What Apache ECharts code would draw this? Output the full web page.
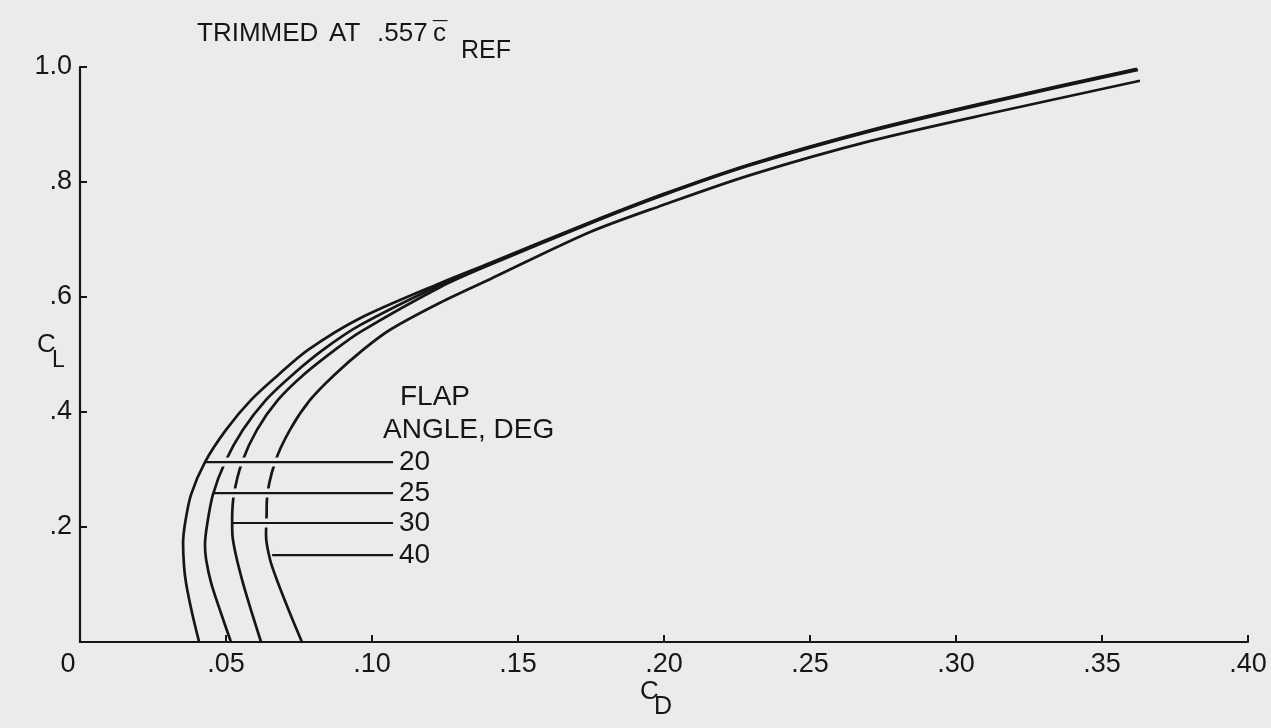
<!DOCTYPE html>
<html>
<head>
<meta charset="utf-8">
<script src="https://cdn.jsdelivr.net/npm/echarts@6/dist/echarts.min.js"></script>
<style>
  html, body { margin: 0; padding: 0; background: #ebebeb; }
  #chart { width: 1271px; height: 728px; }
</style>
</head>
<body>
<div id="chart"></div>
<script>
// Trimmed drag polars, C_L vs C_D, one curve per flap angle
const flapAngles = ['20', '25', '30', '40'];

const polar20 = [
  [0.0408, 0], [0.0384, 0.050], [0.0363, 0.103], [0.0356, 0.134], [0.0353, 0.172],
  [0.0360, 0.207], [0.0380, 0.256], [0.0428, 0.313], [0.0500, 0.369], [0.0586, 0.421],
  [0.0678, 0.464], [0.0781, 0.508], [0.0959, 0.563], [0.1233, 0.624], [0.1404, 0.659],
  [0.1747, 0.730], [0.1997, 0.779], [0.2295, 0.831], [0.2705, 0.890], [0.3151, 0.944],
  [0.3620, 0.997]
];
const polar25 = [
  [0.0517, 0], [0.0483, 0.050], [0.0449, 0.103], [0.0432, 0.143], [0.0428, 0.169],
  [0.0435, 0.203], [0.0455, 0.256], [0.0497, 0.313], [0.0558, 0.369], [0.0637, 0.421],
  [0.0726, 0.464], [0.0832, 0.508], [0.0959, 0.551], [0.1233, 0.621], [0.1404, 0.657],
  [0.1747, 0.729], [0.1997, 0.778], [0.2295, 0.830], [0.2705, 0.889], [0.3151, 0.943],
  [0.3620, 0.996]
];
const polar30 = [
  [0.0620, 0], [0.0589, 0.050], [0.0558, 0.103], [0.0534, 0.151], [0.0522, 0.186],
  [0.0521, 0.212], [0.0527, 0.256], [0.0555, 0.313], [0.0606, 0.369], [0.0678, 0.421],
  [0.0764, 0.464], [0.0873, 0.508], [0.0959, 0.539], [0.1233, 0.617], [0.1404, 0.656],
  [0.1747, 0.728], [0.1997, 0.777], [0.2295, 0.829], [0.2705, 0.888], [0.3151, 0.942],
  [0.3623, 0.995]
];
const polar40 = [
  [0.0760, 0], [0.0719, 0.050], [0.0678, 0.103], [0.0651, 0.143], [0.0637, 0.186],
  [0.0639, 0.221], [0.0640, 0.247], [0.0668, 0.313], [0.0719, 0.369], [0.0788, 0.421],
  [0.0870, 0.464], [0.0969, 0.508], [0.1062, 0.543], [0.1233, 0.590], [0.1404, 0.631],
  [0.1747, 0.713], [0.1997, 0.760], [0.2295, 0.812], [0.2705, 0.871], [0.3151, 0.923],
  [0.3630, 0.976]
];
const polars = [polar20, polar25, polar30, polar40];

// leader lines from each curve to its flap-angle label
const leaderCL = [0.313, 0.259, 0.207, 0.151];
const leaderStartCD = [0.0428, 0.0455, 0.0521, 0.0658];
const leaderEndCD = 0.1072;
const leaderGapOffset = 0.0025;

// tick values
const xTicks = [0, 0.05, 0.10, 0.15, 0.20, 0.25, 0.30, 0.35, 0.40];
const yTicks = [0, 0.2, 0.4, 0.6, 0.8, 1.0];

const INK = '#161616';
const PAPER = '#ebebeb';
const FONT = '"Liberation Sans", Arial, sans-serif';

const series = [];
polars.forEach((pts, i) => {
  series.push({
    name: flapAngles[i],
    type: 'line',
    data: pts,
    smooth: 0.3,
    showSymbol: false,
    symbol: 'none',
    lineStyle: { color: INK, width: 2.7 },
    z: 2
  });
});
// paper-coloured strip under each leader so crossed curves show a break
leaderCL.forEach((cl, i) => {
  series.push({
    type: 'line',
    data: [[leaderStartCD[i] + leaderGapOffset, cl], [leaderEndCD, cl]],
    symbol: 'none',
    lineStyle: { color: PAPER, width: 9 },
    silent: true,
    z: 3
  });
});
leaderCL.forEach((cl, i) => {
  series.push({
    type: 'line',
    data: [[leaderStartCD[i], cl], [leaderEndCD, cl]],
    symbol: 'none',
    lineStyle: { color: INK, width: 2.2 },
    endLabel: {
      show: true,
      formatter: flapAngles[i],
      color: INK,
      fontFamily: FONT,
      fontSize: 28,
      distance: 6
    },
    z: 4
  });
});

const chart = echarts.init(document.getElementById('chart'), null, { renderer: 'canvas' });
chart.setOption({
  animation: false,
  backgroundColor: PAPER,
  grid: { left: 80, right: 23, top: 67, bottom: 86 },
  xAxis: {
    type: 'value',
    min: 0,
    max: 0.40,
    interval: 0.05,
    axisLine: { show: true, onZero: false, lineStyle: { color: INK, width: 2.2 } },
    axisTick: { show: true, inside: true, length: 7, lineStyle: { color: INK, width: 2 } },
    splitLine: { show: false },
    axisLabel: {
      margin: 9,
      color: INK,
      fontFamily: FONT,
      fontSize: 27,
      formatter: v => {
        const t = xTicks.find(x => Math.abs(x - v) < 1e-9);
        if (t === undefined) return '';
        if (t === 0) return '{z|0}';
        return '.' + String(Math.round(t * 100)).padStart(2, '0');
      },
      rich: { z: { fontFamily: FONT, fontSize: 27, color: INK, padding: [0, 24, 0, 0] } }
    }
  },
  yAxis: {
    type: 'value',
    min: 0,
    max: 1.0,
    interval: 0.2,
    axisLine: { show: true, onZero: false, lineStyle: { color: INK, width: 2.2 } },
    axisTick: { show: true, inside: true, length: 7, lineStyle: { color: INK, width: 2 } },
    splitLine: { show: false },
    axisLabel: {
      margin: 8,
      color: INK,
      fontFamily: FONT,
      fontSize: 27,
      formatter: v => {
        const t = yTicks.find(y => Math.abs(y - v) < 1e-9);
        if (t === undefined || t === 0) return '';
        if (t === 1) return '1.0';
        return '.' + Math.round(t * 10);
      }
    }
  },
  graphic: [
    { type: 'text', left: 197, top: 21, style: { text: 'TRIMMED', fill: INK, font: '26px ' + FONT } },
    { type: 'text', left: 329, top: 21, style: { text: 'AT', fill: INK, font: '26px ' + FONT } },
    { type: 'text', left: 377, top: 21, style: { text: '.557', fill: INK, font: '26px ' + FONT } },
    { type: 'text', left: 433, top: 21, style: { text: 'c', fill: INK, font: '26px ' + FONT } },
    { type: 'text', left: 433, top: 20, style: { text: '\u00af', fill: INK, font: '26px ' + FONT } },
    { type: 'text', left: 461, top: 39, style: { text: 'REF', fill: INK, font: '25px ' + FONT } },
    { type: 'text', left: 37, top: 332, style: { text: 'C', fill: INK, font: '26px ' + FONT } },
    { type: 'text', left: 52, top: 349, style: { text: 'L', fill: INK, font: '23px ' + FONT } },
    { type: 'text', left: 640, top: 679, style: { text: 'C', fill: INK, font: '26px ' + FONT } },
    { type: 'text', left: 654, top: 695, style: { text: 'D', fill: INK, font: '25px ' + FONT } },
    { type: 'text', left: 400, top: 383, style: { text: 'FLAP', fill: INK, font: '28px ' + FONT } },
    { type: 'text', left: 383, top: 416, style: { text: 'ANGLE, DEG', fill: INK, font: '28px ' + FONT } }
  ],
  series: series
});
</script>
</body>
</html>
